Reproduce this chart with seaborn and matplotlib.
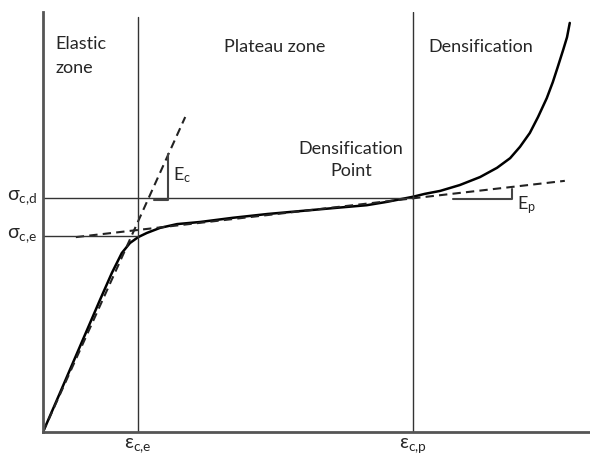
import seaborn as sns
import matplotlib.pyplot as plt
import pandas as pd

# Curva sforzo-deformazione schematica (unita' normalizzate)
strain = [0.000, 0.031, 0.068, 0.104, 0.126, 0.144, 0.159, 0.174, 0.190, 0.214,
          0.245, 0.287, 0.347, 0.410, 0.470, 0.530, 0.592, 0.629, 0.676, 0.698,
          0.726, 0.762, 0.799, 0.830, 0.854, 0.872, 0.890, 0.905, 0.921, 0.932,
          0.941, 0.951, 0.958, 0.963]
stress = [0.000, 0.093, 0.205, 0.314, 0.379, 0.426, 0.450, 0.464, 0.474, 0.486,
          0.495, 0.500, 0.510, 0.519, 0.526, 0.533, 0.540, 0.548, 0.560, 0.567,
          0.574, 0.588, 0.607, 0.629, 0.652, 0.679, 0.712, 0.750, 0.795, 0.833,
          0.869, 0.910, 0.940, 0.974]

# Tangenti tratteggiate
elastic_x = [0.000, 0.260]
elastic_y = [0.000, 0.750]
plateau_x = [0.060, 0.954]
plateau_y = [0.464, 0.598]

# Punti caratteristici
eps_ce = 0.174
eps_cp = 0.676
sig_ce = 0.467
sig_cd = 0.557

# Triangolini delle pendenze
ec_x = [0.203, 0.229, 0.229]
ec_y = [0.552, 0.552, 0.662]
ep_x = [0.750, 0.857, 0.857]
ep_y = [0.555, 0.555, 0.579]

sns.set_style('white')
plt.rcParams['font.family'] = ['Lato', 'DejaVu Sans']
plt.rcParams['mathtext.fontset'] = 'custom'
plt.rcParams['mathtext.rm'] = 'Lato'

fig = plt.figure(figsize=(5.9, 4.55), dpi=100)
ax = fig.add_axes([43 / 590, 23 / 455, 547 / 590, 420 / 455])

df = pd.DataFrame({'strain': strain, 'stress': stress})
sns.lineplot(data=df, x='strain', y='stress', sort=False, color='black', lw=1.8, ax=ax)
sns.lineplot(x=elastic_x, y=elastic_y, color='#222222', lw=1.5, ax=ax,
             linestyle=(0, (4, 2.5)))
sns.lineplot(x=plateau_x, y=plateau_y, sort=False, color='#222222', lw=1.5, ax=ax,
             linestyle=(0, (4, 2.5)))

line_c = '#333333'
ax.plot([eps_ce, eps_ce], [0, 0.988], color=line_c, lw=1)
ax.plot([eps_cp, eps_cp], [0, 1.0], color=line_c, lw=1)
ax.plot([0, eps_cp], [sig_cd, sig_cd], color=line_c, lw=1)
ax.plot([0, eps_ce], [sig_ce, sig_ce], color=line_c, lw=1)
ax.plot(ec_x, ec_y, color='#444444', lw=1.5)
ax.plot(ep_x, ep_y, color='#444444', lw=1.5)

ax.set_xlim(0, 1)
ax.set_ylim(0, 1)
ax.set_xticks([])
ax.set_yticks([])
ax.set_xlabel('')
ax.set_ylabel('')
sns.despine(ax=ax)
for s in ['left', 'bottom']:
    ax.spines[s].set_color('#555555')
    ax.spines[s].set_linewidth(2)

fs = 13
ax.text(0.022, 0.942, 'Elastic\nzone', fontsize=fs, ha='left', va='top', linespacing=1.55)
ax.text(0.424, 0.917, 'Plateau zone', fontsize=fs, ha='center', va='center')
ax.text(0.704, 0.917, 'Densification', fontsize=fs, ha='left', va='center')
ax.text(0.563, 0.648, 'Densification\nPoint', fontsize=fs, ha='center', va='center',
        linespacing=1.45)
ax.text(0.238, 0.612, r'$\mathrm{E_c}$', fontsize=fs, ha='left', va='center')
ax.text(0.867, 0.540, r'$\mathrm{E_p}$', fontsize=fs, ha='left', va='center')
ax.text(-0.011, sig_cd, r'$\mathrm{σ_{c{,}d}}$', fontsize=14, ha='right', va='center')
ax.text(-0.011, sig_ce, r'$\mathrm{σ_{c{,}e}}$', fontsize=14, ha='right', va='center')
ax.text(eps_ce, -0.010, r'$\mathrm{ε_{c{,}e}}$', fontsize=14, ha='center', va='top')
ax.text(eps_cp, -0.010, r'$\mathrm{ε_{c{,}p}}$', fontsize=14, ha='center', va='top')

fig.savefig('out.png', dpi=100)
